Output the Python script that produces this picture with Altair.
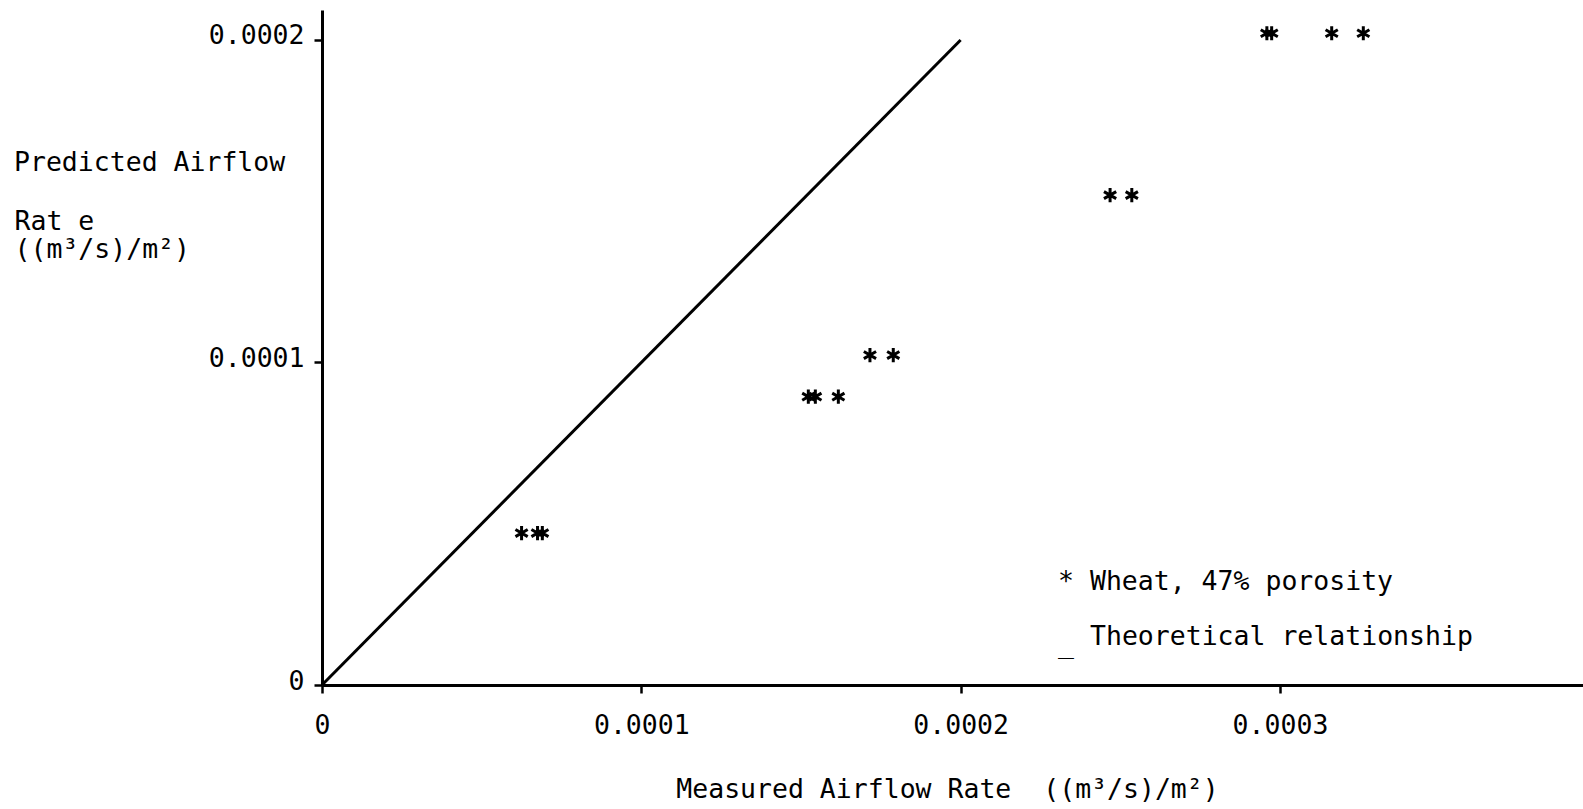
import altair as alt
import pandas as pd

# Measured vs predicted airflow rate ((m^3/s)/m^2)
measured = [0.0000625, 0.0000675, 0.0000690,
            0.0001523, 0.0001545, 0.0001617,
            0.0001716, 0.0001789,
            0.0002468, 0.0002536,
            0.0002959, 0.0002974, 0.0003162, 0.0003261]
predicted = [0.0000471, 0.0000471, 0.0000471,
             0.0000894, 0.0000894, 0.0000894,
             0.0001023, 0.0001023,
             0.0001519, 0.0001519,
             0.0002021, 0.0002021, 0.0002021, 0.0002021]

theory_x = [0.0, 0.0002]
theory_y = [0.0, 0.0002]

x_ticks = [0.0, 0.0001, 0.0002, 0.0003]
y_ticks = [0.0, 0.0001, 0.0002]

legend_text = ["* Wheat, 47% porosity", "Theoretical relationship", "_"]
legend_x = [0.0002305, 0.0002405, 0.0002305]
legend_y = [0.0000295, 0.0000124, 0.0000099]

y_title_top = "Predicted Airflow"
y_title_rest = ["Rat e", "((m³/s)/m²)"]

FONT = "DejaVu Sans Mono"
FS = 26.5

pts = pd.DataFrame({"measured": measured, "predicted": predicted})
line_df = pd.DataFrame({"measured": theory_x, "predicted": theory_y})
leg_df = pd.DataFrame({"measured": legend_x, "predicted": legend_y, "label": legend_text})
ytitle_df = pd.DataFrame({"label": [y_title_top]})

xscale = alt.Scale(domain=[0, 0.0003949], nice=False, zero=False)
yscale = alt.Scale(domain=[0, 0.0002093], nice=False, zero=False)

x_axis = alt.Axis(
    values=x_ticks, format=".4~f", grid=False,
    domainColor="black", domainWidth=3, tickColor="black", tickWidth=2.5, tickSize=8,
    labelFont=FONT, labelFontSize=FS, labelColor="black", labelPadding=19,
    labelBaseline="top", labelFlush=False,
    title="Measured Airflow Rate \u00a0((m³/s)/m²)",
    titleFont=FONT, titleFontSize=FS, titleFontWeight="normal", titleColor="black",
    titleBaseline="alphabetic", titleY=112, titleX=625, titleAlign="center",
)
y_axis = alt.Axis(
    values=y_ticks, format=".4~f", grid=False,
    domainColor="black", domainWidth=3, tickColor="black", tickWidth=2.5, tickSize=8,
    labelFont=FONT, labelFontSize=FS, labelColor="black", labelPadding=10,
    labelBaseline="middle", labelOffset=-4, labelFlush=False,
    title=y_title_rest,
    titleFont=FONT, titleFontSize=FS, titleFontWeight="normal", titleColor="black",
    titleAngle=0, titleAlign="left", titleBaseline="alphabetic", titleLineHeight=28,
    titleX=-308, titleY=219,
)

asterisk = "M0,-1L0,1M-0.866,-0.5L0.866,0.5M-0.866,0.5L0.866,-0.5"

points = alt.Chart(pts).mark_point(
    shape=asterisk, filled=False, stroke="black", strokeWidth=3, size=200, opacity=1
).encode(
    x=alt.X("measured:Q", scale=xscale, axis=x_axis),
    y=alt.Y("predicted:Q", scale=yscale, axis=y_axis),
)

theory = alt.Chart(line_df).mark_line(color="black", strokeWidth=3).encode(
    x=alt.X("measured:Q", scale=xscale),
    y=alt.Y("predicted:Q", scale=yscale),
)

legend = alt.Chart(leg_df).mark_text(
    font=FONT, fontSize=FS, color="black", align="left", baseline="alphabetic"
).encode(
    x=alt.X("measured:Q", scale=xscale),
    y=alt.Y("predicted:Q", scale=yscale),
    text="label:N",
)

ytitle = alt.Chart(ytitle_df).mark_text(
    font=FONT, fontSize=FS, color="black", align="left", baseline="alphabetic"
).encode(
    x=alt.value(-308),
    y=alt.value(161),
    text="label:N",
)

chart = alt.layer(theory, points, legend, ytitle).properties(
    width=1261, height=675,
    padding={"left": 322, "top": 10, "right": 0, "bottom": 124},
    autosize=alt.AutoSizeParams(type="none"),
    background="white",
).configure_view(stroke=None)

chart.save("out.html", embed_options={"renderer": "svg", "actions": False})
